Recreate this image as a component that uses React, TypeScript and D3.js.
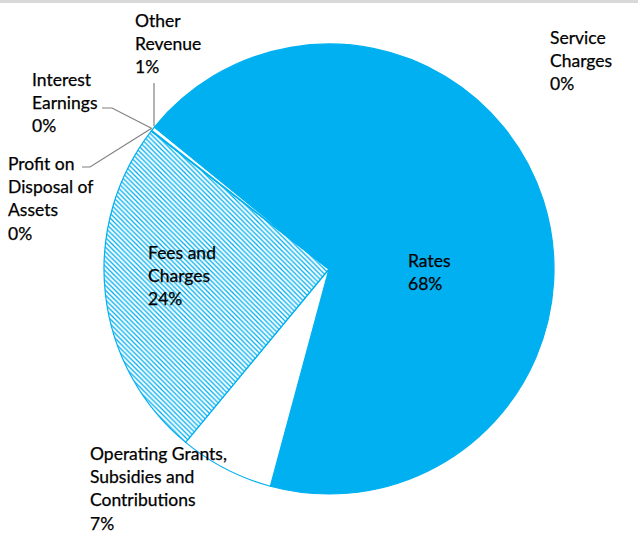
import React, { useEffect, useRef } from 'react';
import * as d3 from 'd3';

// Revenue categories, in pie order (clockwise from the first slice)
const categories = [
  'Rates',
  'Operating Grants, Subsidies and Contributions',
  'Fees and Charges',
  'Profit on Disposal of Assets',
  'Interest Earnings',
  'Other Revenue',
  'Service Charges',
];
const shares = [68.3, 6.8, 24.5, 0.03, 0.03, 0.3, 0.03];
const percentLabels = ['68%', '7%', '24%', '0%', '0%', '1%', '0%'];

// how each category name wraps in the chart
const labelLines = [
  ['Rates'],
  ['Operating Grants,', 'Subsidies and', 'Contributions'],
  ['Fees and', 'Charges'],
  ['Profit on', 'Disposal of', 'Assets'],
  ['Interest', 'Earnings'],
  ['Other', 'Revenue'],
  ['Service', 'Charges'],
];

const BLUE = '#00B0F0';
const W = 638;
const H = 555;

export default function App() {
  const svgRef = useRef<SVGSVGElement>(null);

  useEffect(() => {
    if (!svgRef.current) return;
    const svg = d3.select(svgRef.current);
    svg.selectAll('*').remove();

    const cx = 329;
    const cy = 269;
    const radius = 225;
    const start = (-50.8 * Math.PI) / 180;

    // hatch pattern for Fees and Charges
    const s = 4.8;
    const defs = svg.append('defs');
    const pat = defs
      .append('pattern')
      .attr('id', 'hatch')
      .attr('patternUnits', 'userSpaceOnUse')
      .attr('width', s)
      .attr('height', s);
    pat.append('rect').attr('width', s).attr('height', s).attr('fill', '#fff');
    pat
      .append('path')
      .attr('d', `M-1,-1 L${s + 1},${s + 1} M-1,${s - 1} L1,${s + 1} M${s - 1},-1 L${s + 1},1`)
      .attr('stroke', BLUE)
      .attr('stroke-width', 1.3);

    // top grey rule
    svg.append('rect').attr('x', 0).attr('y', 0).attr('width', W).attr('height', 3).attr('fill', '#d9d9d9');

    const data = categories.map((c, i) => ({ name: c, value: shares[i], idx: i }));
    const pie = d3
      .pie<{ name: string; value: number; idx: number }>()
      .sort(null)
      .value(d => d.value)
      .startAngle(start)
      .endAngle(start + Math.PI * 2);
    const arc = d3
      .arc<d3.PieArcDatum<{ name: string; value: number; idx: number }>>()
      .innerRadius(0)
      .outerRadius(radius);

    const fills = [BLUE, '#fff', 'url(#hatch)', '#fff', '#fff', '#fff', '#fff'];

    const g = svg.append('g').attr('transform', `translate(${cx},${cy})`);
    g.selectAll('path.slice')
      .data(pie(data))
      .enter()
      .append('path')
      .attr('class', 'slice')
      .attr('d', arc)
      .attr('fill', d => fills[d.data.idx])
      .attr('stroke', BLUE)
      .attr('stroke-width', 1.2)
      .attr('stroke-linejoin', 'round');

    // leader lines for the tiny slices
    const leaders: [number, number][][] = [
      [[154, 83], [154, 126]],
      [[102, 108], [112, 108], [151, 128]],
      [[82, 167], [90, 167], [152, 128]],
    ];
    leaders.forEach(pts => {
      svg
        .append('path')
        .attr('d', d3.line()(pts))
        .attr('fill', 'none')
        .attr('stroke', '#808080')
        .attr('stroke-width', 1.2);
    });

    // label anchors: left x, centre y of the first line
    const labelPos: [number, number][] = [
      [408, 260],
      [90, 453],
      [148, 252],
      [8, 163],
      [32, 79],
      [135, 20],
      [550, 37],
    ];
    const lineH = 23.4;
    data.forEach((d, i) => {
      const lines = [...labelLines[i], percentLabels[i]];
      const t = svg
        .append('text')
        .attr('x', labelPos[i][0])
        .attr('y', labelPos[i][1])
        .attr('font-family', 'Lato, "Noto Sans", sans-serif')
        .attr('font-size', 17.5)
        .attr('fill', '#000')
        .attr('stroke', '#000')
        .attr('stroke-width', 0.25);
      lines.forEach((ln, k) => {
        t.append('tspan')
          .attr('x', labelPos[i][0])
          .attr('y', labelPos[i][1] + k * lineH)
          .attr('dominant-baseline', 'central')
          .text(ln);
      });
    });
  }, []);

  return (
    <svg
      ref={svgRef}
      width={W}
      height={H}
      style={{ position: 'absolute', left: 0, top: 0, background: '#fff' }}
    />
  );
}
